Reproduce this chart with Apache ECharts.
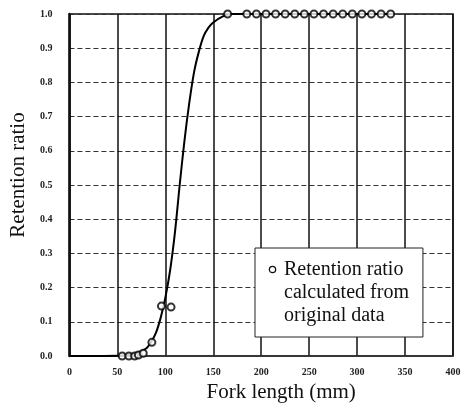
<!DOCTYPE html>
<html>
<head>
<meta charset="utf-8">
<script src="https://cdn.jsdelivr.net/npm/echarts@6/dist/echarts.min.js"></script>
<style>
html,body{margin:0;padding:0;background:#fff;}
#c{width:468px;height:409px;}
</style>
</head>
<body>
<div id="c"></div>
<script>
// Observed retention ratio (fork length mm, ratio)
var obsLength = [55, 62, 68, 72, 77, 86, 96, 106, 165, 185, 195, 205, 215, 225, 235, 245, 255, 265, 275, 285, 295, 305, 315, 325, 335];
var obsRatio  = [0, 0, 0, 0.003, 0.008, 0.04, 0.146, 0.143, 1, 1, 1, 1, 1, 1, 1, 1, 1, 1, 1, 1, 1, 1, 1, 1, 1];
// Fitted curve
var curveLength = [0, 50, 60, 70, 80, 85, 90, 95, 100, 105, 110, 115, 120, 125, 130, 135, 140, 145, 150, 160, 170, 335];
var curveRatio  = [0, 0.001, 0.003, 0.008, 0.022, 0.04, 0.066, 0.11, 0.17, 0.25, 0.36, 0.5, 0.63, 0.74, 0.83, 0.89, 0.935, 0.96, 0.975, 0.993, 1, 1];
var xTicks = [0, 50, 100, 150, 200, 250, 300, 350, 400];
var yTicks = [0, 0.1, 0.2, 0.3, 0.4, 0.5, 0.6, 0.7, 0.8, 0.9, 1.0];
var legendLines = ['Retention ratio', 'calculated from', 'original data'];

var serif = "'Liberation Serif','Times New Roman',serif";
var chart = echarts.init(document.getElementById('c'), null, {renderer: 'canvas'});

function zip(a, b) { return a.map(function (v, i) { return [v, b[i]]; }); }

chart.setOption({
  backgroundColor: '#fff',
  animation: false,
  grid: {left: 63, right: 15, top: 14, bottom: 53, show: true, borderColor: '#111', borderWidth: 1.5, backgroundColor: 'transparent'},
  xAxis: {
    type: 'value', min: xTicks[0], max: xTicks[xTicks.length - 1], interval: 50,
    name: 'Fork length (mm)', nameLocation: 'middle', nameGap: 23,
    nameTextStyle: {fontFamily: serif, fontSize: 21, color: '#111', padding: [0, 0, 0, 40]},
    axisLine: {show: true, lineStyle: {color: '#333', width: 1.5}},
    axisTick: {show: false},
    axisLabel: {fontFamily: serif, fontSize: 10, fontWeight: 'bold', color: '#222', margin: 11},
    splitLine: {show: true, lineStyle: {color: '#111', width: 1.5}}
  },
  yAxis: {
    type: 'value', min: yTicks[0], max: yTicks[yTicks.length - 1], interval: 0.1,
    name: 'Retention ratio', nameLocation: 'middle', nameGap: 27,
    nameTextStyle: {fontFamily: serif, fontSize: 21, color: '#111', padding: [0, 0, 0, 20]},
    axisLine: {show: true, lineStyle: {color: '#111', width: 2.5}},
    axisTick: {show: false},
    axisLabel: {fontFamily: serif, fontSize: 10, fontWeight: 'bold', color: '#222', margin: 17,
      formatter: function (v) { return v.toFixed(1); }},
    splitLine: {show: true, lineStyle: {color: '#333', width: 1, type: [5, 3]}}
  },
  legend: {
    show: true,
    left: 255, top: 248, width: 150,
    orient: 'vertical',
    backgroundColor: '#fff',
    borderColor: '#222', borderWidth: 1,
    padding: [10, 14, 10, 10],
    itemWidth: 0, itemHeight: 0, icon: 'none',
    data: [{name: legendLines.join(' ')}],
    formatter: function () {
      return '{c|}{t|' + legendLines[0] + '}\n{s|}{t|' + legendLines[1] + '}\n{s|}{t|' + legendLines[2] + '}';
    },
    textStyle: {
      fontFamily: serif, fontSize: 20, color: '#111', lineHeight: 23,
      rich: {
        c: {width: 5, height: 5, borderColor: '#111', borderWidth: 1.3, borderRadius: 4, backgroundColor: '#fff'},
        s: {width: 5, height: 5},
        t: {fontFamily: serif, fontSize: 20, color: '#111', lineHeight: 23, padding: [0, 0, 0, 9]}
      }
    }
  },
  series: [
    {
      name: 'curve', type: 'line', data: zip(curveLength, curveRatio), smooth: 0.3,
      showSymbol: false, symbol: 'none', lineStyle: {color: '#000', width: 2}, z: 3, silent: true
    },
    {
      name: legendLines.join(' '), type: 'scatter', data: zip(obsLength, obsRatio),
      symbol: 'circle', symbolSize: 7,
      itemStyle: {color: '#fff', borderColor: '#000', borderWidth: 2}, z: 4
    }
  ]
});
</script>
</body>
</html>
